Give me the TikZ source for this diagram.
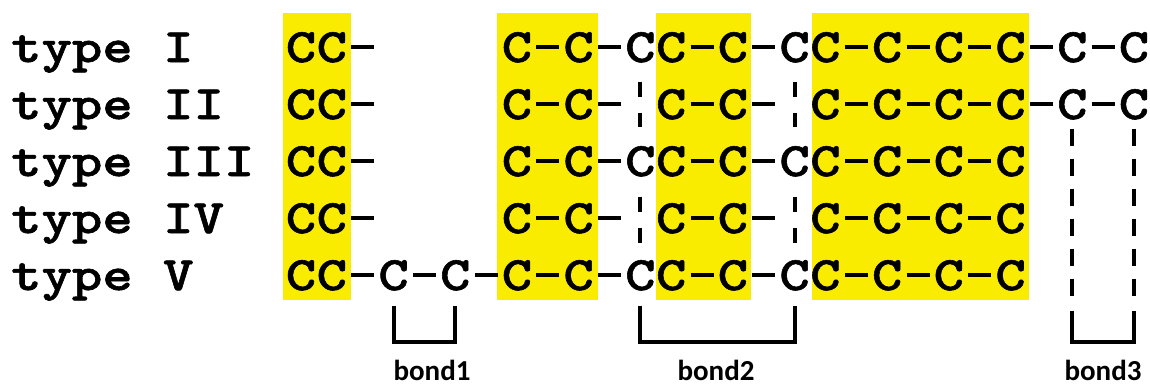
\documentclass[tikz,border=0pt]{standalone}
\usepackage{fontspec}
\newfontfamily\monob{lmmonolt10-bold.otf}[FakeStretch=1.206, FakeBold=1.2]
\newfontfamily\calib{Carlito}
\definecolor{hl}{RGB}{250,236,0}
\tikzset{
  atom/.style={font=\monob\fontsize{48}{48}\selectfont, inner sep=0pt, anchor=base},
  typelbl/.style={font=\monob\fontsize{48}{48}\selectfont, inner sep=0pt, anchor=base west},
  bondline/.style={line width=4pt},
  vdash/.style={line width=4pt, dash pattern=on 15pt off 16pt},
  vdashb/.style={line width=4pt, dash pattern=on 17pt off 13pt},
  brk/.style={line width=4pt, line join=miter},
  blabel/.style={font=\calib\bfseries\fontsize{29}{29}\selectfont, inner sep=0pt, anchor=base},
  hlbox/.style={fill=hl, draw=none}
}
\def\symC{C}\def\symD{-}
\newcommand\atomrow[3]{%
  \foreach \ch [count=\i from 0] in {#3} {%
    \ifx\ch\symC
      \node[atom] (r#1c\i) at ({301+30.85*\i},#2) {C};
    \else\ifx\ch\symD
      \coordinate (r#1c\i) at ({301+30.85*\i},{#2-15});
      \draw[bondline] ([xshift=-11.5pt]r#1c\i) -- ([xshift=11.5pt]r#1c\i);
    \fi\fi
  }}
\begin{document}
\begin{tikzpicture}[x=1pt,y=-1pt]
\useasboundingbox (0,0) rectangle (1150,388);
% highlighted blocks
\fill[hlbox] (283,13) rectangle (351,300);
\fill[hlbox] (497,13) rectangle (598,300);
\fill[hlbox] (656,13) rectangle (751,300);
\fill[hlbox] (812,13) rectangle (1029,300);
% type labels
\node[typelbl] (t1) at (11,62) {type I};
\node[typelbl] (t2) at (11,119) {type II};
\node[typelbl] (t3) at (11,176) {type III};
\node[typelbl] (t4) at (11,233) {type IV};
\node[typelbl] (t5) at (11,290) {type V};
% chains
\atomrow{1}{62}{C,C,-,o,o,o,o,C,-,C,-,C,C,-,C,-,C,C,-,C,-,C,-,C,-,C,-,C}
\atomrow{2}{119}{C,C,-,o,o,o,o,C,-,C,-,o,C,-,C,-,o,C,-,C,-,C,-,C,-,C,-,C}
\atomrow{3}{176}{C,C,-,o,o,o,o,C,-,C,-,C,C,-,C,-,C,C,-,C,-,C,-,C}
\atomrow{4}{233}{C,C,-,o,o,o,o,C,-,C,-,o,C,-,C,-,o,C,-,C,-,C,-,C}
\atomrow{5}{290}{C,C,-,C,-,C,-,C,-,C,-,C,C,-,C,-,C,C,-,C,-,C,-,C}
% broken bonds (dashed columns)
\draw[vdash] ([yshift=-19pt]r1c11.south) -- ([yshift=19pt]r3c11.north);
\draw[vdash] ([yshift=-20pt]r3c11.south) -- ([yshift=17pt]r5c11.north);
\draw[vdash] ([yshift=-19pt]r1c16.south) -- ([yshift=19pt]r3c16.north);
\draw[vdash] ([yshift=-20pt]r3c16.south) -- ([yshift=17pt]r5c16.north);
\draw[vdashb] ([yshift=-9pt]r2c25.south) -- ++(0pt,-167pt);
\draw[vdashb] ([yshift=-9pt]r2c27.south) -- ++(0pt,-167pt);
% brackets
\draw[brk] ([yshift=-15pt]r5c3.south) -- ++(0pt,-36pt) -| ([yshift=-15pt]r5c5.south);
\draw[brk] ([yshift=-15pt]r5c11.south) -- ++(0pt,-36pt) -| ([yshift=-15pt]r5c16.south);
\draw[brk] ([yshift=-191pt]r2c25.south) -- ++(0pt,-31pt) -| ([yshift=-191pt]r2c27.south);
% bond labels
\node[blabel] (b1) at (432,380) {bond1};
\node[blabel] (b2) at (716,380) {bond2};
\node[blabel] (b3) at (1103,380) {bond3};
\end{tikzpicture}
\end{document}
